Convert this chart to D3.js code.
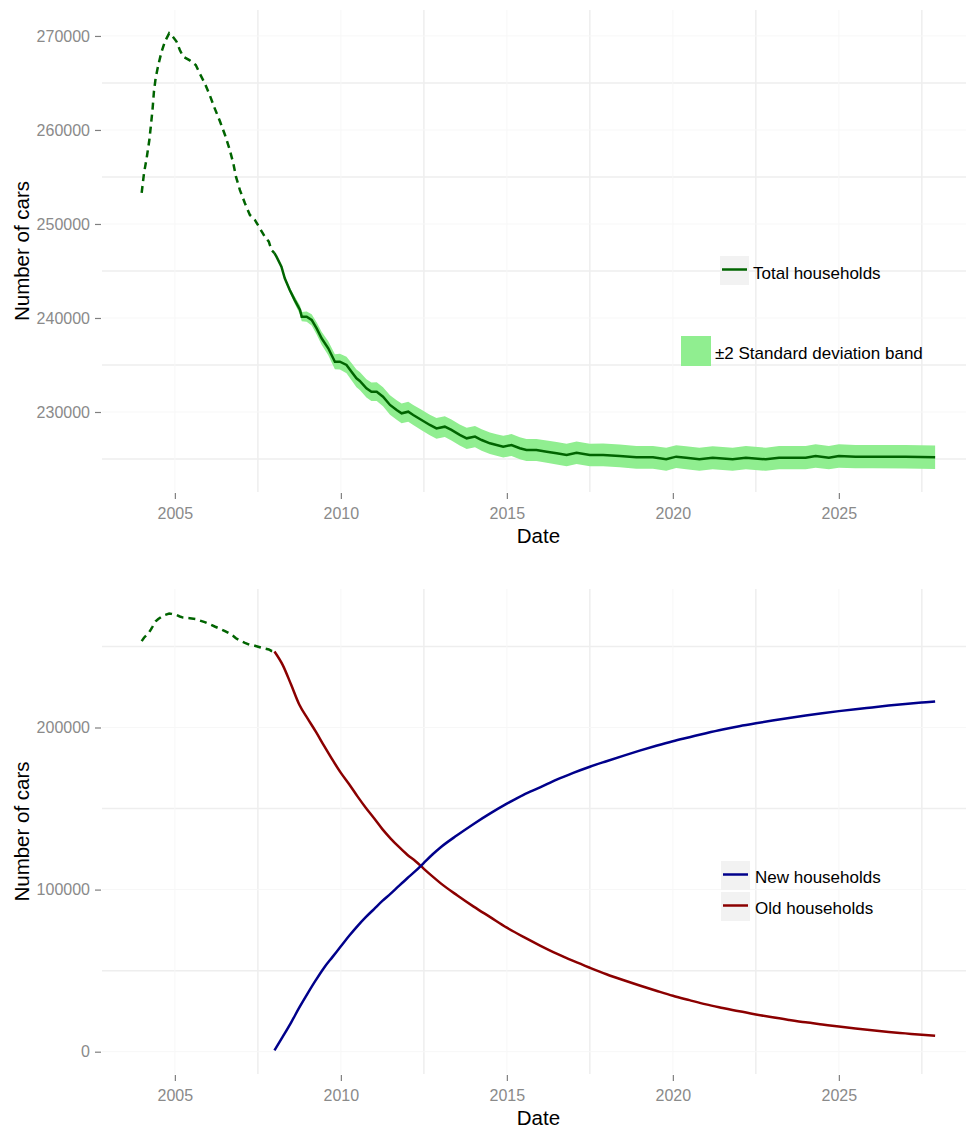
<!DOCTYPE html>
<html>
<head>
<meta charset="utf-8">
<script src="https://cdn.jsdelivr.net/npm/d3@7"></script>
<style>
  html, body { margin: 0; padding: 0; background: #ffffff; }
  svg { display: block; font-family: "Liberation Sans", Arial, sans-serif; }
</style>
</head>
<body>
<svg id="chart" width="966" height="1131"></svg>
<script>
// ---- Total number of cars (weekly simulation, sampled) ----
const totalYears = [
  2004.00, 2004.07, 2004.15, 2004.23, 2004.28, 2004.33, 2004.37, 2004.42, 2004.50, 2004.60,
  2004.70, 2004.83, 2004.90, 2005.05, 2005.15, 2005.25, 2005.45, 2005.63, 2005.75, 2005.90,
  2006.05, 2006.20, 2006.36, 2006.51, 2006.64, 2006.76, 2006.84, 2006.96, 2007.11, 2007.26,
  2007.41, 2007.56, 2007.71, 2007.83, 2007.91, 2008.00,
  2008.06, 2008.21, 2008.31, 2008.46, 2008.61, 2008.77, 2008.82, 2008.97, 2009.12, 2009.27,
  2009.42, 2009.62, 2009.82, 2009.97, 2010.17, 2010.32, 2010.47, 2010.57, 2010.77, 2010.92,
  2011.08, 2011.27, 2011.48, 2011.68, 2011.83, 2012.03, 2012.18, 2012.43, 2012.68, 2012.88,
  2013.13, 2013.33, 2013.58, 2013.79, 2014.04, 2014.24, 2014.49, 2014.69, 2014.89, 2015.14,
  2015.39, 2015.59, 2015.89, 2016.20, 2016.50, 2016.80, 2017.10, 2017.50, 2017.90, 2018.40,
  2018.90, 2019.40, 2019.80, 2020.10, 2020.40, 2020.80, 2021.20, 2021.80, 2022.20, 2022.80,
  2023.20, 2024.00, 2024.30, 2024.70, 2025.00, 2025.50, 2026.00, 2027.00, 2027.90
];
const totalCars = [
  253300, 255400, 257000, 258900, 260530, 262300, 264100, 265500, 266900, 268330,
  269400, 270290, 270100, 269400, 268500, 267800, 267400, 266900, 266000, 264970,
  263700, 262300, 260900, 259470, 258050, 256460, 255030, 253600, 252200, 250960,
  250430, 249540, 248650, 248120, 247230, 246900,
  246520, 245460, 244220, 242980, 241900, 240850, 240140, 240140, 239790, 238900,
  237840, 236780, 235350, 235350, 235000, 234290, 233580, 233300, 232520, 232160,
  232160, 231630, 230750, 230210, 229860, 230030, 229680, 229150, 228620, 228260,
  228440, 228090, 227560, 227200, 227380, 227020, 226670, 226490, 226310, 226490,
  226140, 225960, 225960, 225780, 225610, 225430, 225670, 225430, 225430, 225320,
  225180, 225180, 224970, 225250, 225140, 224970, 225140, 224970, 225140, 224970,
  225140, 225140, 225320, 225140, 225320, 225250, 225250, 225250, 225180
];
// Two standard deviations (cars) around the total, per sample
const twoSd = [
  0, 0, 0, 0, 0, 0, 0, 0, 0, 0,
  0, 0, 0, 0, 0, 0, 0, 0, 0, 0,
  0, 0, 0, 0, 0, 0, 0, 0, 0, 0,
  0, 0, 0, 0, 0, 0,
  40, 100, 160, 260, 380, 470, 500, 540, 600, 650,
  690, 740, 800, 840, 880, 910, 940, 950, 970, 990,
  1000, 1015, 1030, 1045, 1055, 1065, 1070, 1080, 1090, 1095,
  1100, 1110, 1120, 1125, 1130, 1135, 1145, 1150, 1155, 1160,
  1165, 1170, 1180, 1190, 1195, 1200, 1200, 1205, 1210, 1210,
  1215, 1215, 1220, 1220, 1220, 1225, 1225, 1230, 1230, 1230,
  1235, 1235, 1240, 1240, 1240, 1245, 1245, 1250, 1250
];
const projectionStart = 2008.0;

// ---- Split of the projected fleet ----
const splitYears = [
  2008.00, 2008.25, 2008.50, 2008.75, 2009.00, 2009.25, 2009.50, 2009.75, 2010.00, 2010.25,
  2010.50, 2010.75, 2011.00, 2011.25, 2011.50, 2011.75, 2012.00, 2012.25, 2012.50, 2012.75,
  2013.00, 2013.50, 2014.00, 2014.50, 2015.00, 2015.50, 2016.00, 2016.50, 2017.00, 2017.50,
  2018.00, 2018.50, 2019.00, 2019.50, 2020.00, 2020.50, 2021.00, 2021.50, 2022.00, 2022.50,
  2023.00, 2023.50, 2024.00, 2024.50, 2025.00, 2025.50, 2026.00, 2026.50, 2027.00, 2027.50,
  2027.90
];
const newHouseholds = [
  800, 9300, 18000, 27300, 36000, 44300, 52000, 58500, 65000, 71500,
  77500, 83000, 88000, 93000, 97500, 102300, 107000, 111500, 116500, 121500,
  126000, 133500, 140500, 147000, 153000, 158500, 163000, 167800, 172000, 175800,
  179200, 182500, 185700, 188700, 191500, 194000, 196500, 198800, 200800, 202600,
  204300, 205900, 207400, 208800, 210100, 211300, 212400, 213500, 214500, 215400,
  216100
];
const oldHouseholds = [
  246900, 238500, 226500, 214000, 205500, 197300, 188500, 180000, 172000, 165000,
  157500, 150500, 144000, 137300, 131500, 126300, 121500, 117500, 112800, 108300,
  104000, 96500, 89500, 83000, 76500, 70800, 65500, 60500, 56000, 51800,
  47800, 44200, 40800, 37600, 34500, 31800, 29200, 27000, 24900, 23000,
  21200, 19600, 18100, 16800, 15500, 14300, 13200, 12200, 11300, 10400,
  9800
];

// ---- Axis ticks ----
const xTicks = [2005, 2010, 2015, 2020, 2025];
const xMinor = [2007.5, 2012.5, 2017.5, 2022.5, 2027.5];
const topYTicks = [230000, 240000, 250000, 260000, 270000];
const topYMinor = [225000, 235000, 245000, 255000, 265000];
const botYTicks = [0, 100000, 200000];
const botYMinor = [50000, 150000, 250000];

const C = {
  green: "#006400", band: "#90EE90", blue: "#00008B", red: "#8B0000",
  gridMinor: "#eeeeee", gridMajor: "#f7f7f7", tick: "#7f7f7f", tickText: "#8a8a8a",
  keyBg: "#f2f2f2"
};

const svg = d3.select("#chart");
const W = 966;
const left = 102, right = 974.8;

const x = d3.scaleLinear().domain([2002.805, 2029.095]).range([left, right]);

const totalRows = totalYears.map((t, i) => ({ t, v: totalCars[i], s: twoSd[i] }));
const before = totalRows.filter(d => d.t <= projectionStart);
const after = totalRows.filter(d => d.t >= projectionStart);
const splitRows = splitYears.map((t, i) => ({ t, n: newHouseholds[i], o: oldHouseholds[i] }));

function panel(top, bottom, y, yTicks, yMinor) {
  const g = svg.append("g");
  // minor grid
  g.selectAll(".hmin").data(yMinor).enter().append("line")
    .attr("x1", left).attr("x2", W).attr("y1", d => y(d)).attr("y2", d => y(d))
    .attr("stroke", C.gridMinor).attr("stroke-width", 1.5);
  g.selectAll(".vmin").data(xMinor).enter().append("line")
    .attr("x1", d => x(d)).attr("x2", d => x(d)).attr("y1", top).attr("y2", bottom)
    .attr("stroke", C.gridMinor).attr("stroke-width", 1.5);
  // major grid
  g.selectAll(".hmaj").data(yTicks).enter().append("line")
    .attr("x1", left).attr("x2", W).attr("y1", d => y(d)).attr("y2", d => y(d))
    .attr("stroke", C.gridMajor).attr("stroke-width", 1);
  g.selectAll(".vmaj").data(xTicks).enter().append("line")
    .attr("x1", d => x(d)).attr("x2", d => x(d)).attr("y1", top).attr("y2", bottom)
    .attr("stroke", C.gridMajor).attr("stroke-width", 1);

  // y axis
  const ya = svg.append("g").attr("transform", `translate(${left - 1},0)`)
    .call(d3.axisLeft(y).tickValues(yTicks).tickSize(6).tickPadding(5).tickFormat(d3.format("d")));
  ya.select(".domain").remove();
  ya.selectAll(".tick line").attr("stroke", C.tick).attr("stroke-width", 1.2);
  ya.selectAll(".tick text").attr("fill", C.tickText).attr("font-size", 16)
    .attr("font-family", "Liberation Sans, Arial, sans-serif");

  // x axis
  const xa = svg.append("g").attr("transform", `translate(0,${bottom + 1})`)
    .call(d3.axisBottom(x).tickValues(xTicks).tickSize(6).tickPadding(9).tickFormat(d3.format("d")));
  xa.select(".domain").remove();
  xa.selectAll(".tick line").attr("stroke", C.tick).attr("stroke-width", 1.2);
  xa.selectAll(".tick text").attr("fill", C.tickText).attr("font-size", 16)
    .attr("font-family", "Liberation Sans, Arial, sans-serif");

  // titles
  svg.append("text").attr("x", (left + right) / 2).attr("y", bottom + 51)
    .attr("text-anchor", "middle").attr("font-size", 20.5).attr("fill", "#000").text("Date");
  svg.append("text")
    .attr("transform", `translate(29,${(top + bottom) / 2}) rotate(-90)`)
    .attr("text-anchor", "middle").attr("font-size", 20.5).attr("fill", "#000").text("Number of cars");
  return g;
}

// ================= Top panel =================
const topT = 10, topB = 492;
const yTop = d3.scaleLinear().domain([221490, 272760]).range([topB, topT]);
panel(topT, topB, yTop, topYTicks, topYMinor);

svg.append("path").datum(after)
  .attr("d", d3.area().x(d => x(d.t)).y0(d => yTop(d.v - d.s)).y1(d => yTop(d.v + d.s)))
  .attr("fill", C.band);

svg.append("path").datum(before)
  .attr("d", d3.line().x(d => x(d.t)).y(d => yTop(d.v)))
  .attr("fill", "none").attr("stroke", C.green).attr("stroke-width", 2.5)
  .attr("stroke-dasharray", "7,5");
svg.append("path").datum(after)
  .attr("d", d3.line().x(d => x(d.t)).y(d => yTop(d.v)))
  .attr("fill", "none").attr("stroke", C.green).attr("stroke-width", 2.5);

// legends (top)
const lg1 = svg.append("g");
lg1.append("rect").attr("x", 720).attr("y", 256).attr("width", 29).attr("height", 29).attr("fill", C.keyBg);
lg1.append("line").attr("x1", 722).attr("x2", 747).attr("y1", 269.5).attr("y2", 269.5)
  .attr("stroke", C.green).attr("stroke-width", 2.5);
lg1.append("text").attr("x", 753).attr("y", 279).attr("font-size", 17).text("Total households");

const lg2 = svg.append("g");
lg2.append("rect").attr("x", 681).attr("y", 336).attr("width", 30).attr("height", 30).attr("fill", C.band);
lg2.append("text").attr("x", 715).attr("y", 359).attr("font-size", 17).text("±2 Standard deviation band");

// ================= Bottom panel =================
const botT = 589, botB = 1074;
const yBot = d3.scaleLinear().domain([-13760, 285440]).range([botB, botT]);
panel(botT, botB, yBot, botYTicks, botYMinor);

svg.append("path").datum(before)
  .attr("d", d3.line().x(d => x(d.t)).y(d => yBot(d.v)))
  .attr("fill", "none").attr("stroke", C.green).attr("stroke-width", 2.5)
  .attr("stroke-dasharray", "7,5");
svg.append("path").datum(splitRows)
  .attr("d", d3.line().curve(d3.curveMonotoneX).x(d => x(d.t)).y(d => yBot(d.o)))
  .attr("fill", "none").attr("stroke", C.red).attr("stroke-width", 2.5);
svg.append("path").datum(splitRows)
  .attr("d", d3.line().curve(d3.curveMonotoneX).x(d => x(d.t)).y(d => yBot(d.n)))
  .attr("fill", "none").attr("stroke", C.blue).attr("stroke-width", 2.5);

// legend (bottom)
const lg3 = svg.append("g");
[["New households", C.blue], ["Old households", C.red]].forEach(([label, col], i) => {
  const y0 = 861 + i * 31;
  lg3.append("rect").attr("x", 721).attr("y", y0).attr("width", 29).attr("height", 29).attr("fill", C.keyBg);
  lg3.append("line").attr("x1", 723).attr("x2", 748).attr("y1", y0 + 13.5).attr("y2", y0 + 13.5)
    .attr("stroke", col).attr("stroke-width", 2.5);
  lg3.append("text").attr("x", 755).attr("y", y0 + 22).attr("font-size", 17).text(label);
});
</script>
</body>
</html>
